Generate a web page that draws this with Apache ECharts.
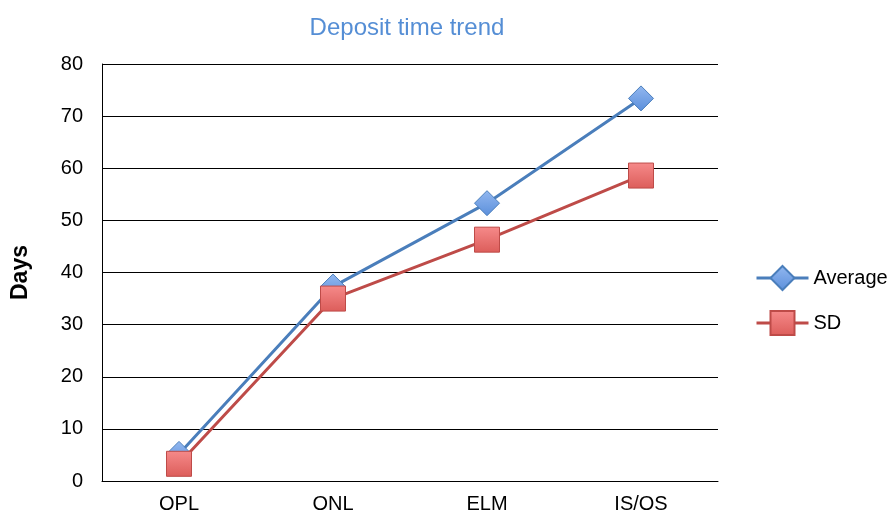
<!DOCTYPE html>
<html>
<head>
<meta charset="utf-8">
<script src="https://cdn.jsdelivr.net/npm/echarts@6/dist/echarts.min.js"></script>
<style>
html, body { margin: 0; padding: 0; background: #fff; }
#main { width: 891px; height: 514px; }
</style>
</head>
<body>
<div id="main"></div>
<script>
var categories = ['OPL', 'ONL', 'ELM', 'IS/OS'];
var averageDays = [5.2, 37.3, 53.3, 73.4];
var sdDays = [3.3, 35.0, 46.3, 58.6];

var chart = echarts.init(document.getElementById('main'));

var font = 'Liberation Sans, Arial, sans-serif';

var option = {
    animation: false,
    title: {
        text: 'Deposit time trend',
        left: 402,
        textAlign: 'center',
        top: 11,
        textStyle: { color: '#558ED5', fontSize: 24, fontWeight: 'normal', fontFamily: font }
    },
    legend: {
        orient: 'vertical',
        left: 755,
        top: 265,
        padding: 0,
        itemWidth: 52,
        itemHeight: 30,
        itemGap: 19,
        lineStyle: { width: 3 },
        textStyle: { fontSize: 20, color: '#000', fontFamily: font },
        data: ['Average', 'SD']
    },
    grid: { left: 102, right: 173, top: 64, bottom: 32 },
    xAxis: {
        type: 'category',
        data: categories,
        boundaryGap: true,
        axisLine: { lineStyle: { color: '#000', width: 1 } },
        axisTick: { show: false },
        axisLabel: { fontSize: 20, color: '#000', margin: 13, fontFamily: font }
    },
    yAxis: {
        type: 'value',
        min: 0,
        max: 80,
        interval: 10,
        name: 'Days',
        nameLocation: 'middle',
        nameGap: 70,
        nameTextStyle: { fontSize: 23, fontWeight: 'bold', color: '#000', fontFamily: font },
        axisLine: { show: true, lineStyle: { color: '#000', width: 1 } },
        axisTick: { show: false },
        axisLabel: { fontSize: 20, color: '#000', margin: 19, fontFamily: font },
        splitLine: { lineStyle: { color: '#000', width: 1 } }
    },
    series: [
        {
            name: 'Average',
            type: 'line',
            data: averageDays,
            symbol: 'diamond',
            symbolSize: 25,
            lineStyle: { color: '#4A7EBB', width: 3 },
            itemStyle: {
                color: new echarts.graphic.LinearGradient(0, 0, 0, 1, [
                    { offset: 0, color: '#93B8F0' },
                    { offset: 1, color: '#5B8FDB' }
                ]),
                borderColor: '#4A7EBB',
                borderWidth: 1
            },
            z: 3
        },
        {
            name: 'SD',
            type: 'line',
            data: sdDays,
            symbol: 'rect',
            symbolSize: 25,
            lineStyle: { color: '#BE4B48', width: 3 },
            itemStyle: {
                color: new echarts.graphic.LinearGradient(0, 0, 0, 1, [
                    { offset: 0, color: '#F68A8A' },
                    { offset: 1, color: '#DC5D5A' }
                ]),
                borderColor: '#BE4B48',
                borderWidth: 1
            },
            z: 4
        }
    ]
};

chart.setOption(option);
</script>
</body>
</html>
